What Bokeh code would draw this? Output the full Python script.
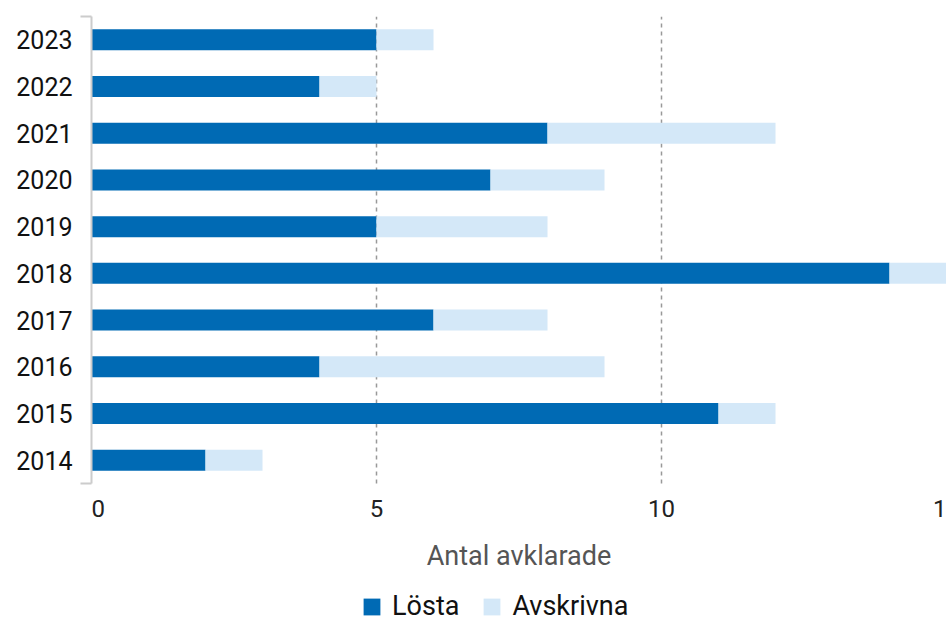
from bokeh.plotting import figure
from bokeh.models import ColumnDataSource, FixedTicker, Legend, LegendItem, Range1d
from bokeh.core.properties import value
from bokeh.embed import file_html
from bokeh.resources import INLINE

years = [2014, 2015, 2016, 2017, 2018, 2019, 2020, 2021, 2022, 2023]
losta = [2, 11, 4, 6, 14, 5, 7, 8, 4, 5]
avskrivna = [1, 1, 5, 2, 1, 3, 2, 4, 1, 1]
series = ["Lösta", "Avskrivna"]
colors = ["#006AB4", "#D4E8F8"]
x_ticks = [0, 5, 10, 15]
grid_ticks = [5, 10]
x_title = "Antal avklarade"

FONT = "Roboto"

# layout constants (pixels)
ROW_PX = 46.7            # pixels per category row
FRAME_H = 606            # frame extends to page bottom so texts below bars fit in it
TICK_LABEL_OFFSET = 25   # px below bar area
TITLE_OFFSET = 72        # px below bar area

ypos = list(range(len(years)))
y_top = len(years) - 0.5
y_bot_bars = -0.5
y_min = y_top - FRAME_H / ROW_PX

source = ColumnDataSource(dict(y=ypos, losta=losta, avskrivna=avskrivna))

p = figure(frame_width=855, frame_height=FRAME_H, output_backend="svg", toolbar_location=None,
           x_range=Range1d(0, 15), y_range=Range1d(y_min, y_top),
           x_axis_location=None,
           min_border_left=91, min_border_right=0, min_border_top=16,
           min_border_bottom=0)
p.outline_line_color = None
p.xgrid.grid_line_color = None
p.ygrid.grid_line_color = None

# dashed grid lines limited to bar area
p.segment(x0=grid_ticks, x1=grid_ticks, y0=[y_bot_bars] * len(grid_ticks),
          y1=[y_top] * len(grid_ticks), line_color="#999999", line_dash="4 4", line_width=1.5)

renderers = p.hbar_stack(["losta", "avskrivna"], y="y", height=0.45, color=colors,
                         source=source, line_color=None)

# y axis (bracket)
ya = p.yaxis[0]
ya.bounds = (y_bot_bars, y_top)
ya.ticker = FixedTicker(ticks=ypos, minor_ticks=[y_bot_bars, y_top])
ya.major_label_overrides = {i: str(yr) for i, yr in zip(ypos, years)}
ya.axis_line_color = "#cccccc"
ya.axis_line_width = 2
ya.major_tick_line_color = None
ya.major_tick_out = 0
ya.major_tick_in = 0
ya.minor_tick_line_color = "#cccccc"
ya.minor_tick_line_width = 2
ya.minor_tick_out = 11
ya.minor_tick_in = 0
ya.major_label_standoff = 8
ya.major_label_text_font = FONT
ya.major_label_text_font_size = "25px"
ya.major_label_text_color = "#111111"

# x tick labels and title as text
tick_y = y_bot_bars - TICK_LABEL_OFFSET / ROW_PX
p.text(x=x_ticks[:1], y=[tick_y], text=[str(t) for t in x_ticks[:1]],
       text_font=value(FONT), text_font_size="24px", text_color="#222222",
       text_align="left", text_baseline="middle")
p.text(x=x_ticks[1:], y=[tick_y] * len(x_ticks[1:]), text=[str(t) for t in x_ticks[1:]],
       text_font=value(FONT), text_font_size="24px", text_color="#222222",
       text_align="center", text_baseline="middle")
title_y = y_bot_bars - TITLE_OFFSET / ROW_PX
p.text(x=[(x_ticks[0] + x_ticks[-1]) / 2], y=[title_y], text=[x_title],
       text_font=value(FONT), text_font_size="27px", text_color="#555555",
       text_align="center", text_baseline="middle")

legend = Legend(items=[LegendItem(label=s, renderers=[r]) for s, r in zip(series, renderers)],
                orientation="horizontal", location=(270, 0))
legend.label_text_font = FONT
legend.label_text_font_size = "27px"
legend.label_text_color = "#111111"
legend.glyph_width = 21
legend.glyph_height = 21
legend.label_standoff = 10
legend.spacing = 22
legend.border_line_color = None
legend.background_fill_alpha = 0
legend.padding = 0
legend.margin = 0
p.add_layout(legend, "center")

open("out.html", "w").write(file_html(p, INLINE))
